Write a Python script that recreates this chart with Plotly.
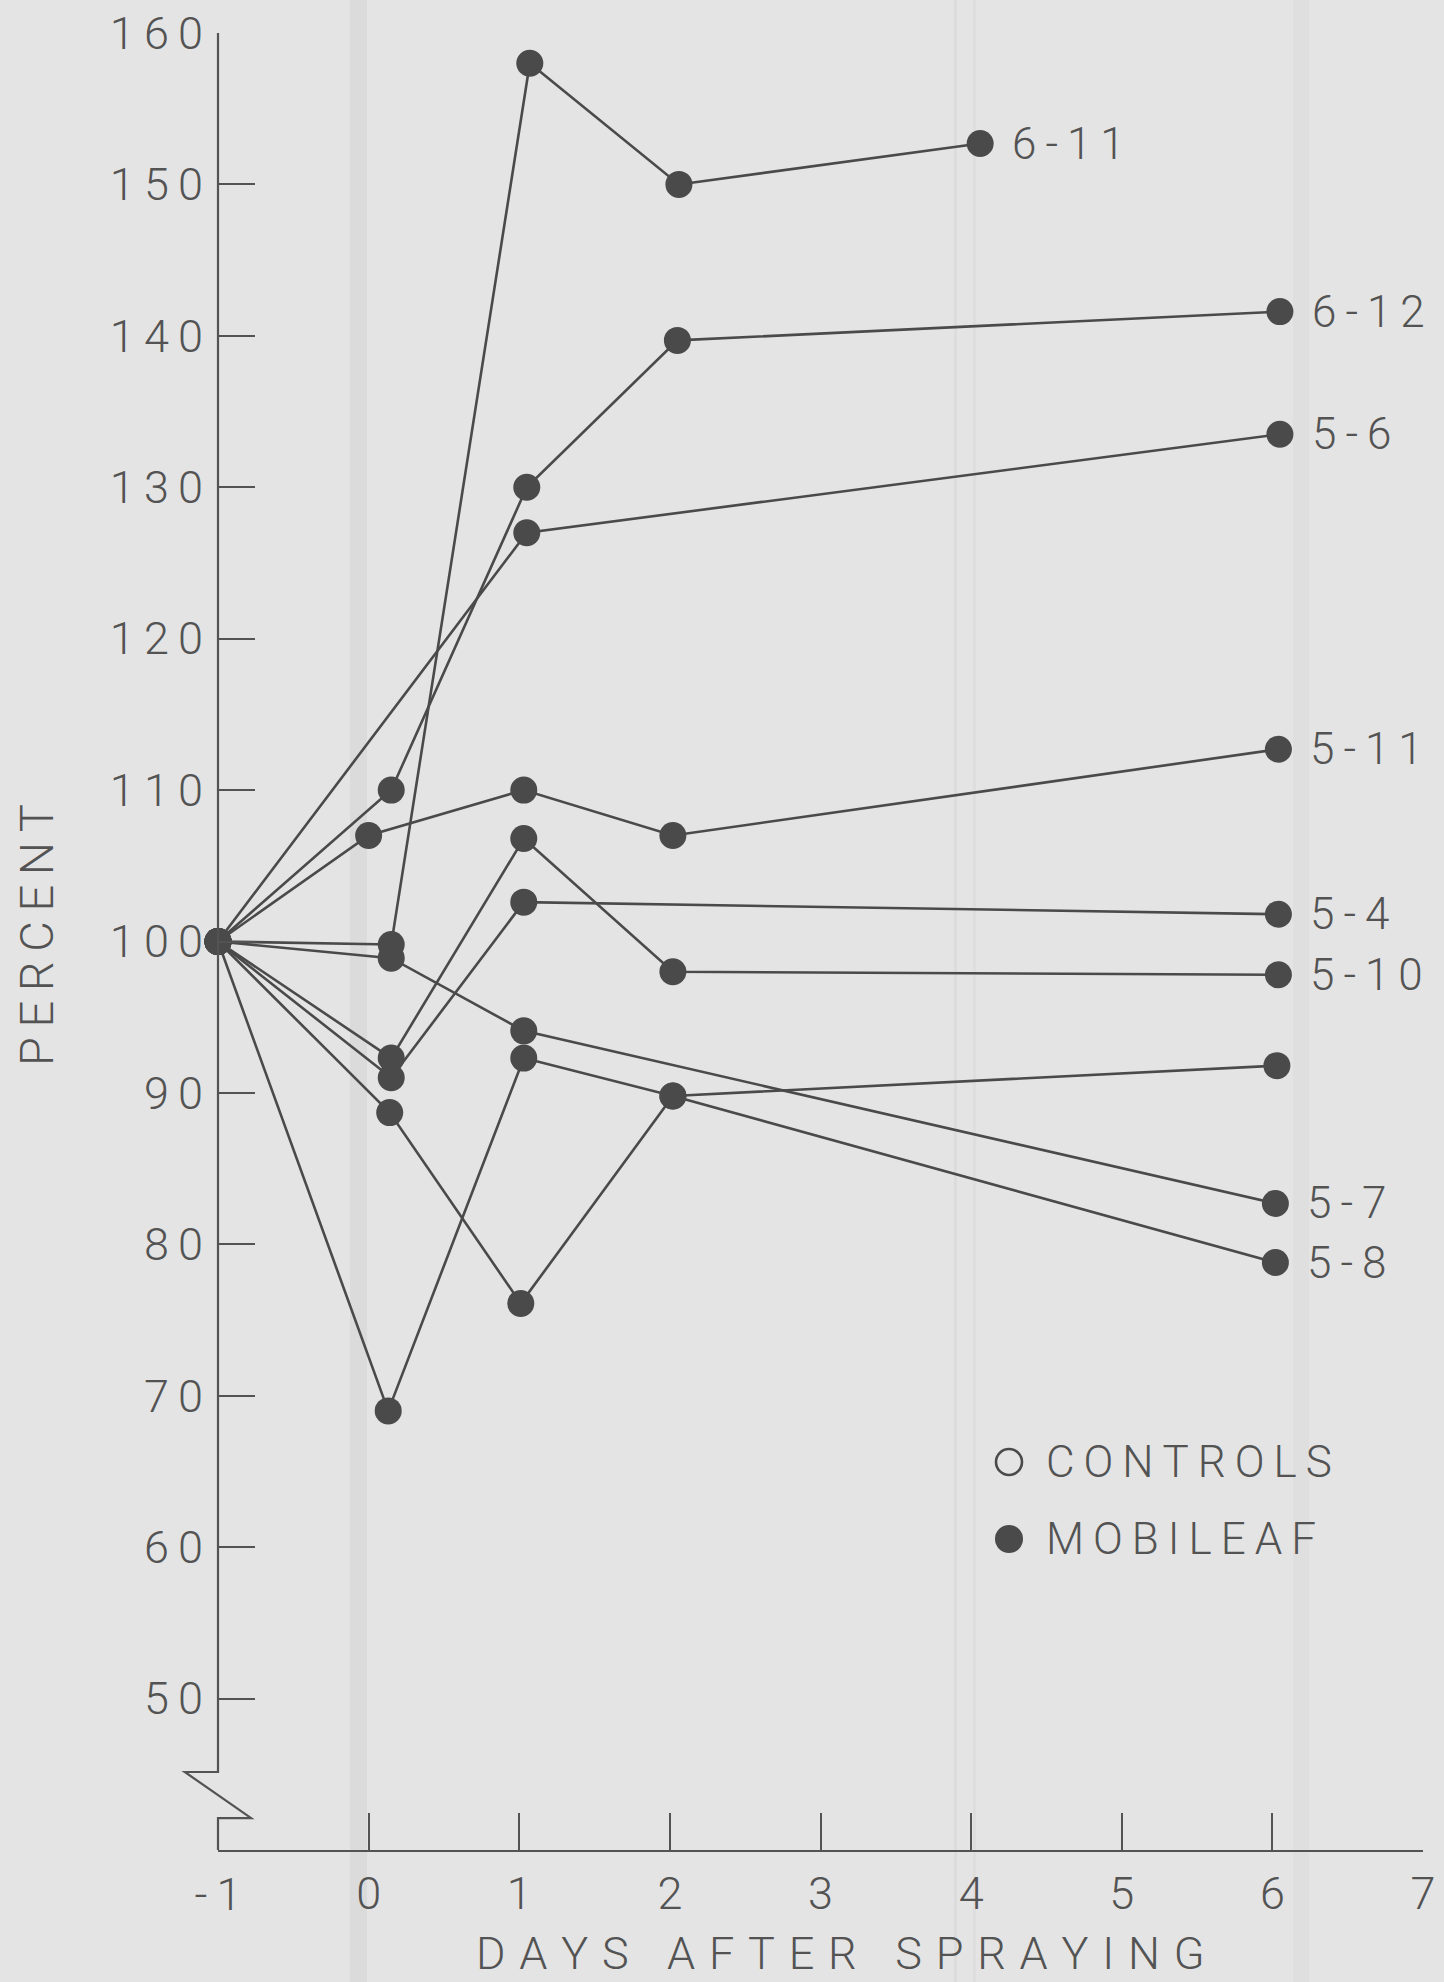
import plotly.graph_objects as go

# ---- data: percent of initial value vs. days after spraying ----
series_names = ["6-11", "6-12", "5-6", "5-11", "5-4", "5-10", "", "5-7", "5-8"]
series_days = [
    [-1, 0.15, 1.07, 2.06, 4.06],
    [-1, 0.15, 1.05, 2.05, 6.05],
    [-1, 1.05, 6.05],
    [-1, 0.0, 1.03, 2.02, 6.04],
    [-1, 0.15, 1.03, 6.04],
    [-1, 0.15, 1.03, 2.02, 6.04],
    [-1, 0.13, 1.03, 2.02, 6.03],
    [-1, 0.15, 1.03, 6.02],
    [-1, 0.14, 1.01, 2.02, 6.02],
]
series_percent = [
    [100, 99.8, 158.0, 150.0, 152.7],
    [100, 110.0, 130.0, 139.7, 141.6],
    [100, 127.0, 133.5],
    [100, 107.0, 110.0, 107.0, 112.7],
    [100, 91.0, 102.6, 101.8],
    [100, 92.3, 106.8, 98.0, 97.8],
    [100, 69.0, 92.3, 89.8, 91.8],
    [100, 98.9, 94.1, 82.7],
    [100, 88.7, 76.1, 89.8, 78.8],
]
x_ticks = [0, 1, 2, 3, 4, 5, 6, 7]
y_ticks = [50, 60, 70, 80, 90, 100, 110, 120, 130, 140, 150, 160]
legend_items = ["CONTROLS", "MOBILEAF"]

# ---- styling ----
W, H = 1444, 1982
ML, MR, MT, MB = 218, 21, 33, 132
PW, PH = W - ML - MR, H - MT - MB
Y_MIN, Y_MAX = 40, 160
X_MIN, X_MAX = -1, 7
BG = "#e4e4e4"
INK = "#4a4a4a"
TXT = "#535353"
FONT = "Roboto, Lato, 'DejaVu Sans', sans-serif"
THIN = "\u2009"
HAIR = "\u200a"


def spaced(s, gap=THIN):
    """Letter-space a string the way stencil lettering is spaced."""
    return gap.join(s)


def px_x(px):
    return (px - ML) / PW


def px_y(py):
    return (MT + PH - py) / PH


def val_x(v):
    return (v - X_MIN) / (X_MAX - X_MIN)


def val_y(v):
    return (v - Y_MIN) / (Y_MAX - Y_MIN)


fig = go.Figure()

for i, (name, xs, ys) in enumerate(zip(series_names, series_days, series_percent)):
    fig.add_trace(go.Scatter(
        x=xs, y=ys, mode="lines+markers",
        name=name or "series",
        xaxis="x2" if i == len(series_names) - 1 else "x",
        line=dict(color=INK, width=2.6),
        marker=dict(color=INK, size=27, line=dict(width=0)),
        cliponaxis=False, showlegend=False, hoverinfo="x+y",
    ))

annotations = []
for name, xs, ys in zip(series_names, series_days, series_percent):
    if name:
        annotations.append(dict(
            x=xs[-1], y=ys[-1], xref="x", yref="y", text=spaced(name),
            xanchor="left", yanchor="middle", xshift=30, showarrow=False,
            font=dict(family=FONT, size=44, color=TXT, weight=300),
        ))

# axis titles
annotations.append(dict(
    x=px_x(37), y=px_y(935), xref="paper", yref="paper", text=spaced("PERCENT"),
    textangle=-90, showarrow=False, xanchor="center", yanchor="middle",
    font=dict(family=FONT, size=47, color=TXT, weight=300),
))
annotations.append(dict(
    x=px_x(840), y=px_y(1953), xref="paper", yref="paper",
    text=spaced("DAYS AFTER SPRAYING", THIN + HAIR), showarrow=False,
    xanchor="center", yanchor="middle",
    font=dict(family=FONT, size=45, color=TXT, weight=300),
))

# key: open circle for controls, filled for treated plants
key_y = [1462, 1539]
for label, ky in zip(legend_items, key_y):
    annotations.append(dict(
        x=px_x(1044), y=px_y(ky), xref="paper", yref="paper", text=spaced(label),
        showarrow=False, xanchor="left", yanchor="middle",
        font=dict(family=FONT, size=44, color=TXT, weight=300),
    ))

shapes = []

# faint vertical streaks of the printed sheet
for x0, x1, alpha in [(350, 367, 0.035), (954, 957, 0.03), (973, 976, 0.025), (1293, 1309, 0.02)]:
    shapes.append(dict(
        type="rect", xref="paper", yref="paper", x0=px_x(x0), x1=px_x(x1),
        y0=px_y(H), y1=px_y(0), line=dict(width=0),
        fillcolor=f"rgba(0,0,0,{alpha})", layer="below",
    ))

shapes.append(dict(
    type="circle", xref="paper", yref="paper", xsizemode="pixel", ysizemode="pixel",
    xanchor=px_x(1009), yanchor=px_y(key_y[0]), x0=-13, x1=13, y0=-13, y1=13,
    line=dict(color=INK, width=2.6), fillcolor="rgba(0,0,0,0)",
))
shapes.append(dict(
    type="circle", xref="paper", yref="paper", xsizemode="pixel", ysizemode="pixel",
    xanchor=px_x(1009), yanchor=px_y(key_y[1]), x0=-14, x1=14, y0=-14, y1=14,
    line=dict(color=INK, width=0), fillcolor=INK,
))

# vertical axis with a scale break just above the x axis
brk_top, brk_bot = 45.15, 42.1
brk_left, brk_right = -1.22, -0.78
axis_path = (
    f"M {val_x(-1)},{val_y(160)} L {val_x(-1)},{val_y(brk_top)} "
    f"L {val_x(brk_left)},{val_y(brk_top)} L {val_x(brk_right)},{val_y(brk_bot)} "
    f"L {val_x(-1)},{val_y(brk_bot)} L {val_x(-1)},{val_y(Y_MIN)}"
)
shapes.append(dict(
    type="path", xref="paper", yref="paper", path=axis_path,
    line=dict(color=TXT, width=2.2), fillcolor="rgba(0,0,0,0)", layer="above",
))

tick_font = dict(family=FONT, size=45, color=TXT, weight=300)

fig.update_layout(
    width=W, height=H,
    margin=dict(l=ML, r=MR, t=MT, b=MB, autoexpand=False),
    paper_bgcolor=BG, plot_bgcolor="rgba(0,0,0,0)",
    showlegend=False,
    xaxis=dict(
        range=[X_MIN, X_MAX], tickvals=x_ticks, ticktext=[spaced(str(v)) for v in x_ticks],
        ticks="inside", ticklen=37, tickwidth=2.2, tickcolor=TXT,
        showline=True, linecolor=TXT, linewidth=2.2,
        showgrid=False, zeroline=False, tickfont=tick_font,
        ticklabelstandoff=3, automargin=False,
    ),
    xaxis2=dict(
        matches="x", overlaying="x", anchor="y", side="bottom",
        tickvals=[-1], ticktext=[spaced("-1")], ticks="",
        showline=False, showgrid=False, zeroline=False, tickfont=tick_font,
        ticklabelstandoff=14, automargin=False,
    ),
    yaxis=dict(
        range=[Y_MIN, Y_MAX], tickvals=y_ticks, ticktext=[spaced(str(v)) for v in y_ticks],
        ticks="inside", ticklen=37, tickwidth=2.2, tickcolor=TXT,
        showline=False, showgrid=False, zeroline=False, tickfont=tick_font,
        ticklabelstandoff=14, automargin=False,
    ),
    annotations=annotations,
    shapes=shapes,
)

fig.write_html("out.html")
